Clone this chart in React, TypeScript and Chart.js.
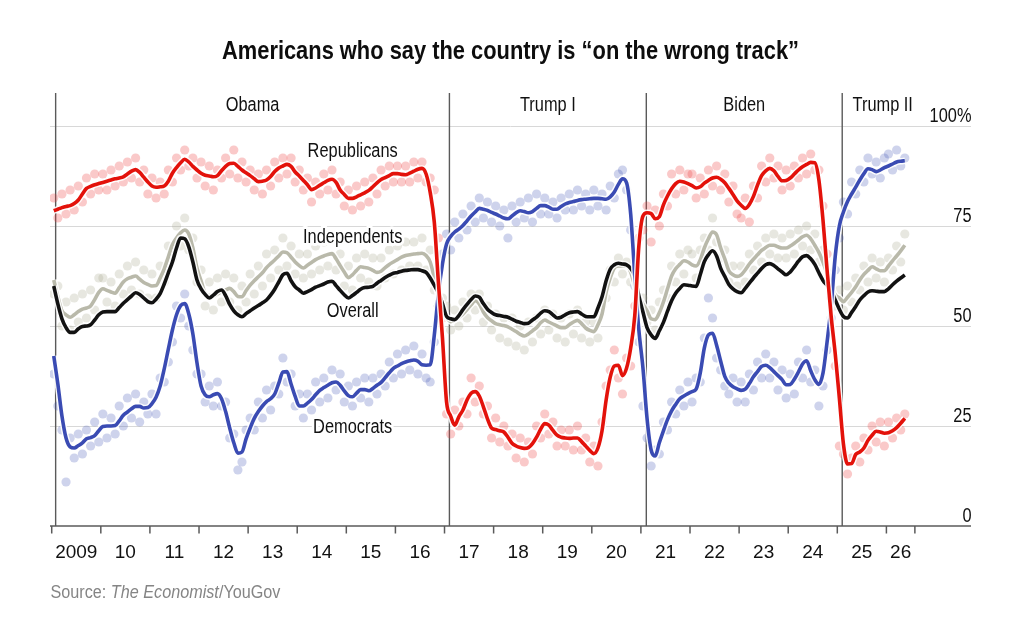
import React, { useEffect, useRef } from "react";
import { Chart, registerables } from "chart.js";

Chart.register(...registerables);

// ---------- data ----------
const START_YEAR = 2009;
const N_MONTHS = 209; // Jan 2009 .. May 2026
const months: number[] = Array.from({ length: N_MONTHS }, (_, i) => START_YEAR + (i + 0.5) / 12);

const republicans = [
  78.8, 79.2, 79.6, 79.9, 80.1, 80.6, 81.5, 83.0, 84.4, 84.9, 85.3, 85.6,
  85.9, 86.2, 86.5, 86.8, 87.0, 87.3, 88.0, 88.7, 89.1, 88.4, 87.2, 86.0,
  85.0, 84.7, 84.8, 85.0, 86.2, 88.2, 89.6, 90.8, 91.7, 91.0, 89.9, 89.0,
  88.2, 87.7, 87.5, 87.3, 87.6, 88.8, 89.9, 90.6, 90.7, 89.9, 89.0, 88.3,
  87.6, 86.8, 86.1, 86.2, 86.5, 87.4, 88.6, 89.5, 90.0, 90.4, 89.9, 88.5,
  87.5, 86.4, 85.3, 84.1, 84.5, 85.2, 85.8, 86.4, 86.7, 85.9, 84.0, 82.9,
  81.9, 81.9, 82.3, 82.8, 83.3, 83.9, 84.8, 85.8, 86.6, 87.1, 87.6, 88.1,
  88.1, 87.9, 87.8, 88.2, 88.7, 89.2, 89.4, 88.0, 83.4, 76.0, 61.0, 47.0,
  31.0, 27.5, 25.2, 27.3, 29.0, 31.5, 33.2, 33.6, 32.5, 29.8, 26.8, 24.5,
  24.1, 23.8, 23.5, 22.2, 20.7, 20.0, 19.6, 19.4, 19.6, 20.6, 22.2, 24.2,
  25.6, 25.2, 23.9, 22.7, 22.2, 22.0, 21.9, 22.0, 22.0, 21.1, 20.0, 18.9,
  18.1, 19.5, 23.8, 31.5, 37.2, 40.0, 40.2, 37.6, 39.5, 44.5, 52.6, 70.0,
  77.5, 78.3, 78.1, 76.8, 77.3, 80.3, 82.5, 84.3, 85.6, 86.2, 86.0, 85.6,
  85.1, 84.5, 84.8, 85.7, 86.4, 87.0, 87.2, 86.7, 85.8, 84.4, 82.9, 81.3,
  80.2, 79.4, 80.4, 82.4, 85.2, 87.6, 88.8, 89.4, 88.8, 87.4, 86.3, 86.4,
  87.0, 88.0, 89.0, 89.8, 90.4, 90.9, 90.8, 86.5, 76.5, 64.0, 52.4, 43.0,
  32.0, 20.5, 15.5, 15.6, 17.9, 18.5, 19.5, 21.4, 22.7, 23.7, 23.5, 23.2,
  23.3, 23.8, 24.6, 25.7, 26.9,
];

const democrats = [
  42.5, 35.5, 27.5, 22.0, 19.8, 19.5, 20.1, 20.8, 21.8, 22.1, 22.6, 23.8,
  24.9, 25.0, 25.0, 25.1, 26.3, 27.7, 28.5, 29.3, 29.9, 29.9, 29.5, 29.6,
  30.6, 32.2, 35.0, 39.3, 44.2, 49.0, 52.8, 55.1, 55.6, 53.0, 48.0, 40.8,
  35.0, 32.8, 32.3, 32.8, 33.1, 31.8, 28.6, 24.5, 20.8, 18.2, 18.5, 21.8,
  24.5, 26.9, 28.6, 30.0, 31.1, 31.8, 33.0, 35.7, 38.5, 38.6, 35.5, 32.4,
  30.0, 30.0, 30.7, 31.6, 32.8, 33.9, 34.6, 35.2, 35.8, 36.0, 35.2, 33.8,
  32.6, 32.3, 33.2, 34.1, 34.1, 33.8, 34.4, 35.2, 35.9, 37.1, 38.3, 39.4,
  40.0, 40.6, 41.0, 41.3, 41.5, 41.2, 40.3, 40.2, 40.3, 47.7, 58.0, 65.5,
  70.5, 72.4, 73.5, 74.2, 75.1, 76.3, 77.5, 78.5, 79.4, 79.2, 78.9, 78.4,
  78.0, 77.5, 77.0, 76.8, 77.5, 78.3, 78.8, 78.6, 78.3, 78.6, 79.4, 80.1,
  80.1, 79.7, 79.2, 79.2, 79.9, 80.5, 80.9, 81.1, 81.4, 81.6, 81.7, 81.8,
  81.9, 81.9, 81.8, 81.7, 82.3, 83.5, 85.4, 86.8, 85.8, 78.0, 62.6, 49.0,
  39.5, 26.9, 19.0, 17.5, 20.8, 23.8, 26.6, 28.8, 30.4, 31.8, 32.5, 33.1,
  33.6, 34.2, 38.2, 44.5, 47.8, 48.2, 45.2, 41.2, 37.4, 35.7, 34.8, 34.3,
  33.9, 34.2, 35.6, 37.3, 38.6, 39.9, 40.2, 39.6, 38.6, 37.6, 36.6, 35.3,
  35.4, 36.7, 38.5, 40.5, 41.3, 38.8, 36.6, 35.4, 38.2, 46.0, 55.0, 67.5,
  75.0, 78.5, 81.1, 83.0, 84.7, 86.5, 88.1, 89.3, 89.1, 88.6, 89.0, 89.6,
  90.0, 90.5, 91.0, 91.2, 91.3,
];

const independents = [
  61.5, 57.3, 53.8, 52.8, 52.2, 52.8, 53.6, 54.2, 54.5, 55.0, 56.6, 58.4,
  59.3, 58.9, 58.5, 58.2, 59.6, 61.0, 61.8, 62.2, 62.5, 61.7, 60.9, 60.4,
  60.0, 60.1, 62.0, 64.3, 67.3, 70.3, 72.0, 73.3, 74.0, 73.0, 69.5, 64.5,
  61.3, 58.2, 57.6, 57.5, 58.0, 58.6, 59.0, 59.4, 58.6, 57.4, 57.3, 58.8,
  60.2, 61.3, 62.3, 63.3, 64.6, 65.6, 66.5, 67.5, 68.5, 68.3, 67.2, 66.0,
  65.1, 64.5, 65.2, 65.9, 66.6, 67.1, 67.5, 67.9, 68.1, 66.8, 65.1, 63.5,
  62.1, 62.8, 63.9, 64.8, 64.6, 64.4, 63.9, 63.4, 63.7, 64.6, 65.4, 66.0,
  66.6, 67.2, 67.6, 67.8, 68.0, 68.1, 68.2, 67.6, 66.0, 62.0, 57.3, 54.0,
  52.2, 51.1, 51.5, 52.1, 53.0, 54.1, 55.3, 56.3, 55.5, 53.5, 52.1, 51.3,
  50.6, 50.3, 50.1, 49.8, 49.2, 48.6, 47.9, 47.5, 48.0, 48.8, 49.6, 50.8,
  51.5, 51.0, 50.5, 50.0, 49.6, 49.6, 50.3, 51.0, 51.4, 50.6, 49.5, 48.9,
  48.6, 50.3, 53.0, 58.5, 62.0, 64.5, 65.0, 65.0, 65.0, 63.5, 60.0, 57.5,
  55.5, 53.8, 51.8, 51.6, 53.3, 56.0, 59.3, 62.5, 64.3, 65.4, 66.3, 66.0,
  65.3, 65.0, 66.5, 69.5, 71.8, 73.5, 72.8, 69.5, 66.8, 63.8, 62.8, 62.4,
  62.8, 64.0, 65.5, 66.7, 67.8, 68.9, 69.6, 70.2, 70.2, 69.8, 69.5, 69.5,
  70.0, 70.7, 71.5, 72.3, 72.7, 71.8, 70.2, 68.4, 66.0, 63.0, 60.0, 57.8,
  57.0, 56.1, 57.2, 58.4, 59.8, 61.5, 62.9, 63.9, 64.8, 64.3, 63.8, 63.8,
  65.0, 66.3, 67.5, 68.8, 70.2,
];

const overall = [
  60.0, 55.5, 51.8, 49.6, 48.4, 48.4, 49.3, 49.9, 50.0, 50.3, 51.5, 52.8,
  53.5, 53.6, 53.6, 53.6, 54.6, 55.7, 56.6, 57.5, 58.3, 57.9, 57.0, 56.1,
  55.8, 56.7, 58.1, 60.5, 63.3, 66.0, 69.5, 72.0, 71.8, 69.8, 66.0, 61.5,
  59.3, 57.9, 57.0, 57.7, 58.6, 59.0, 57.6, 55.4, 53.8, 52.8, 52.3, 53.1,
  53.8, 54.5, 55.1, 55.8, 56.5, 57.7, 59.2, 61.0, 62.8, 63.2, 61.3, 59.8,
  59.0, 58.2, 58.6, 59.1, 59.7, 60.1, 60.5, 61.0, 61.2, 60.1, 58.9, 57.8,
  57.0, 57.6, 58.4, 59.2, 59.6, 59.7, 59.9, 60.7, 61.4, 62.1, 62.7, 63.2,
  63.4, 63.7, 63.9, 64.0, 64.1, 64.1, 63.8, 63.4, 62.0, 60.2, 58.3, 55.6,
  52.4, 51.8, 51.6, 52.6, 54.1, 55.4, 56.6, 57.5, 57.2, 55.6, 54.2, 53.4,
  52.8, 52.6, 52.4, 52.2, 51.7, 51.2, 50.9, 50.6, 50.7, 51.5, 52.2, 53.2,
  53.8, 53.6, 52.8, 52.0, 52.2, 52.8, 53.3, 53.5, 53.6, 53.0, 52.4, 52.3,
  52.3, 54.5, 57.3, 61.3, 64.2, 65.3, 65.7, 65.5, 65.3, 64.4, 62.5, 57.5,
  53.5, 49.6, 47.8, 46.9, 48.8, 50.9, 53.7, 56.3, 58.2, 59.4, 60.3, 60.2,
  60.0, 59.9, 62.8, 66.1, 67.8, 68.8, 67.5, 64.4, 62.4, 60.4, 59.3, 58.6,
  58.3, 59.4, 60.7, 62.0, 63.2, 64.4, 65.3, 65.6, 65.1, 64.3, 63.5, 62.8,
  63.5, 64.8, 66.2, 67.3, 67.6, 66.8, 65.4, 63.3, 61.4, 60.2, 59.0, 56.5,
  54.2, 52.4, 52.0, 53.4, 54.9, 56.5, 57.6, 58.5, 58.8, 58.7, 58.6, 58.6,
  59.3, 60.3, 61.2, 62.0, 62.75,
];

// individual poll readings (approximate)
const repPolls = [
  82, 77, 83, 78, 84, 79, 85, 81, 87, 83, 88, 84,
  88, 84, 89, 85, 90, 86, 91, 87, 92, 86, 89, 83,
  87, 82, 86, 83, 89, 86, 92, 89, 94, 90, 92, 87,
  91, 85, 90, 84, 89, 87, 92, 88, 94, 87, 91, 86,
  89, 84, 88, 83, 89, 85, 91, 87, 92, 88, 92, 86,
  89, 84, 87, 81, 86, 83, 88, 84, 89, 83, 86, 80,
  84, 79, 85, 80, 86, 81, 87, 83, 89, 85, 90, 86,
  90, 86, 90, 86, 91, 87, 91, 86, 87, 84, 72, 52,
  28, 23, 29, 25, 31, 28, 37, 31, 35, 28, 30, 22,
  27, 21, 25, 20, 23, 17, 22, 16, 21, 18, 25, 22,
  28, 23, 26, 20, 24, 20, 24, 19, 25, 19, 22, 16,
  20, 15, 26, 35, 39, 44, 37, 33, 42, 40, 55, 72,
  74, 80, 71, 79, 75, 83, 80, 88, 83, 89, 84, 88,
  88, 82, 87, 83, 89, 85, 90, 84, 88, 81, 85, 78,
  77, 82, 76, 85, 82, 90, 86, 92, 87, 90, 84, 89,
  85, 90, 87, 92, 88, 93, 89, 89, 80, 68, 57, 40,
  20, 18, 13, 17, 20, 16, 22, 19, 25, 21, 26, 20,
  26, 22, 27, 24, 28,
];

const demPolls = [
  38, 30, 24, 11, 22, 17, 23, 18, 24, 20, 26, 21,
  28, 22, 27, 23, 30, 25, 32, 27, 33, 26, 31, 28,
  33, 28, 37, 36, 41, 46, 55, 52, 58, 50, 44, 38,
  38, 31, 35, 30, 36, 30, 31, 22, 23, 14, 16, 24,
  27, 24, 31, 27, 34, 29, 35, 33, 42, 36, 38, 30,
  33, 27, 33, 29, 36, 31, 37, 32, 39, 34, 38, 31,
  35, 30, 36, 32, 37, 31, 37, 33, 38, 35, 41, 37,
  43, 38, 44, 39, 45, 38, 43, 37, 36, 46, 55, 68,
  73, 69, 76, 72, 78, 74, 80, 76, 82, 77, 81, 76,
  80, 75, 79, 72, 80, 76, 81, 77, 82, 76, 83, 78,
  82, 78, 81, 77, 82, 79, 83, 79, 84, 80, 83, 79,
  84, 80, 83, 79, 85, 82, 88, 89, 84, 74, 60, 46,
  30, 22, 15, 19, 18, 26, 24, 31, 28, 34, 30, 36,
  31, 37, 36, 47, 57, 52, 42, 39, 35, 33, 37, 31,
  36, 31, 38, 34, 41, 37, 43, 37, 41, 34, 39, 32,
  38, 33, 41, 37, 44, 36, 39, 30, 35, 44, 52, 64,
  72, 81, 78, 86, 83, 89, 86, 92, 88, 91, 87, 92,
  93, 89, 94, 90, 92,
];

const indPolls = [
  58, 60, 50, 56, 49, 57, 51, 58, 52, 59, 54, 62,
  62, 56, 61, 55, 63, 58, 65, 59, 66, 58, 64, 57,
  63, 57, 65, 61, 70, 67, 75, 70, 77, 69, 72, 61,
  64, 55, 61, 54, 62, 56, 63, 56, 62, 54, 60, 56,
  63, 58, 65, 60, 68, 62, 69, 64, 72, 65, 70, 63,
  68, 62, 68, 63, 70, 64, 71, 65, 72, 64, 68, 60,
  65, 59, 67, 62, 68, 61, 67, 60, 67, 62, 69, 63,
  70, 64, 71, 65, 71, 65, 72, 64, 69, 59, 55, 57,
  55, 49, 54, 50, 56, 52, 58, 54, 58, 51, 55, 49,
  53, 47, 52, 46, 52, 45, 50, 44, 51, 46, 52, 48,
  54, 49, 53, 47, 52, 46, 53, 48, 54, 47, 51, 46,
  51, 47, 55, 57, 64, 61, 67, 63, 66, 61, 62, 55,
  57, 51, 54, 49, 56, 59, 57, 65, 61, 68, 63, 69,
  68, 62, 69, 72, 69, 77, 71, 67, 69, 61, 65, 60,
  65, 61, 68, 64, 70, 66, 72, 68, 73, 67, 72, 67,
  73, 68, 74, 70, 75, 69, 73, 66, 69, 61, 62, 55,
  59, 54, 60, 56, 62, 59, 65, 61, 67, 62, 66, 61,
  67, 64, 70, 66, 73,
];

// axes / annotations
const yearTicks = [2009, 2010, 2011, 2012, 2013, 2014, 2015, 2016, 2017, 2018, 2019, 2020, 2021, 2022, 2023, 2024, 2025, 2026];
const yearLabels = ["2009", "10", "11", "12", "13", "14", "15", "16", "17", "18", "19", "20", "21", "22", "23", "24", "25", "26"];
const axisEndYear = 2026.58;
const yTickValues = [0, 25, 50, 75, 100];
const yTickLabels = ["0", "25", "50", "75", "100%"];
const presidencies = ["Obama", "Trump I", "Biden", "Trump II"];
const termStarts = [2009.08, 2017.1, 2021.11, 2025.1];
const lastTermEnd = 2026.75;
const seriesNames = ["Republicans", "Independents", "Overall", "Democrats"];
const seriesLabelYear = 2015.13;
const seriesLabelValues = [92.2, 70.75, 52.25, 23.3];

const TITLE = "Americans who say the country is \u201Con the wrong track\u201D";

// ---------- styles ----------
const RED = "#e3120b";
const BLUE = "#3a4bb3";
const GREY = "#b9b9aa";
const BLACK = "#121212";
const SANS = '"Liberation Sans", Arial, sans-serif';
const COND = 0.84; // horizontal squeeze to mimic a condensed face

const pts = (vals: number[]) => months.map((x, i) => ({ x, y: vals[i] }));

function txt(
  ctx: CanvasRenderingContext2D,
  s: string,
  x: number,
  y: number,
  font: string,
  align: CanvasTextAlign,
  color: string,
  sx = 1,
  halo = 0
) {
  ctx.save();
  ctx.translate(x, y);
  ctx.scale(sx, 1);
  ctx.font = font;
  ctx.textAlign = align;
  ctx.textBaseline = "alphabetic";
  if (halo) {
    ctx.lineWidth = halo;
    ctx.lineJoin = "round";
    ctx.strokeStyle = "#fff";
    ctx.strokeText(s, 0, 0);
  }
  ctx.fillStyle = color;
  ctx.fillText(s, 0, 0);
  ctx.restore();
}

const decor = {
  id: "decor",
  beforeDatasetsDraw(chart: any) {
    const { ctx, chartArea, scales } = chart;
    const x = scales.x;
    const y = scales.y;
    ctx.save();
    ctx.strokeStyle = "#d8d8d8";
    ctx.lineWidth = 1;
    yTickValues.forEach((v) => {
      if (v === 0) return;
      const py = Math.round(y.getPixelForValue(v)) + 0.5;
      ctx.beginPath();
      ctx.moveTo(chartArea.left, py);
      ctx.lineTo(chartArea.right, py);
      ctx.stroke();
    });
    ctx.strokeStyle = "#5a5a5a";
    ctx.lineWidth = 1.4;
    termStarts.forEach((t) => {
      const px = x.getPixelForValue(t);
      ctx.beginPath();
      ctx.moveTo(px, chartArea.top - 33);
      ctx.lineTo(px, chartArea.bottom);
      ctx.stroke();
    });
    ctx.restore();
  },
  afterDatasetsDraw(chart: any) {
    const { ctx, chartArea, scales } = chart;
    const x = scales.x;
    const y = scales.y;
    ctx.save();
    const base = y.getPixelForValue(0);
    ctx.strokeStyle = "#5a5a5a";
    ctx.lineWidth = 1.5;
    ctx.beginPath();
    ctx.moveTo(chartArea.left, base);
    ctx.lineTo(chartArea.right, base);
    ctx.stroke();
    [...yearTicks, axisEndYear].forEach((t) => {
      const px = x.getPixelForValue(t);
      ctx.beginPath();
      ctx.moveTo(px, base);
      ctx.lineTo(px, base + 7.5);
      ctx.stroke();
    });
    yearTicks.forEach((t, i) => {
      const end = Math.min(t + 1, axisEndYear);
      const px = x.getPixelForValue((t + end) / 2);
      txt(ctx, yearLabels[i], px, base + 32, `19px ${SANS}`, "center", "#111");
    });
    yTickValues.forEach((v, i) => {
      const py = y.getPixelForValue(v);
      txt(ctx, yTickLabels[i], chartArea.right + 0.5, py - 4.5, `19.5px ${SANS}`, "right", "#111", COND);
    });
    termStarts.forEach((t, i) => {
      const end = i < termStarts.length - 1 ? termStarts[i + 1] : lastTermEnd;
      const px = (x.getPixelForValue(t) + x.getPixelForValue(end)) / 2;
      txt(ctx, presidencies[i], px, chartArea.top - 15.5, `19.5px ${SANS}`, "center", "#111", COND);
    });
    seriesNames.forEach((s, i) => {
      txt(ctx, s, x.getPixelForValue(seriesLabelYear), y.getPixelForValue(seriesLabelValues[i]), `19.5px ${SANS}`, "center", "#111", COND, 6);
    });
    // title
    ctx.font = `bold 26px ${SANS}`;
    ctx.textAlign = "center";
    ctx.textBaseline = "alphabetic";
    ctx.fillStyle = "#0d0d0d";
    ctx.fillText(TITLE, 510.5, 59, 577);
    // source
    ctx.save();
    ctx.translate(chartArea.left + 0.5, 598);
    ctx.scale(0.9, 1);
    let sx = 0;
    const parts: [string, string][] = [
      ["Source: ", `18px ${SANS}`],
      ["The Economist", `italic 18px ${SANS}`],
      ["/YouGov", `18px ${SANS}`],
    ];
    ctx.textAlign = "left";
    ctx.fillStyle = "#858585";
    parts.forEach(([s, f]) => {
      ctx.font = f;
      ctx.fillText(s, sx, 0);
      sx += ctx.measureText(s).width;
    });
    ctx.restore();
    ctx.restore();
  },
};

export default function App() {
  const ref = useRef<HTMLCanvasElement | null>(null);
  useEffect(() => {
    if (!ref.current) return;
    const lineDs = (label: string, vals: number[], color: string) => ({
      label,
      data: pts(vals),
      borderColor: color,
      borderWidth: 3.6,
      pointRadius: 0,
      cubicInterpolationMode: "monotone" as const,
      fill: false,
    });
    const haloDs = (vals: number[]) => ({
      label: "halo",
      data: pts(vals),
      borderColor: "rgba(255,255,255,0.9)",
      borderWidth: 6.5,
      pointRadius: 0,
      cubicInterpolationMode: "monotone" as const,
      fill: false,
    });
    const dotDs = (label: string, vals: number[], color: string) => ({
      label,
      data: pts(vals),
      showLine: false,
      pointRadius: 4.6,
      pointBorderWidth: 0,
      pointBackgroundColor: color,
      borderColor: color,
    });
    const chart = new Chart(ref.current, {
      type: "line",
      data: {
        datasets: [
          lineDs("Republicans", republicans, RED),
          haloDs(republicans),
          lineDs("Democrats", democrats, BLUE),
          haloDs(democrats),
          lineDs("Overall", overall, BLACK),
          haloDs(overall),
          lineDs("Independents", independents, GREY),
          haloDs(independents),
          dotDs("Republican polls", repPolls, "rgba(238,60,60,0.28)"),
          dotDs("Democrat polls", demPolls, "rgba(61,80,181,0.25)"),
          dotDs("Independent polls", indPolls, "rgba(168,168,144,0.28)"),
        ] as any,
      },
      options: {
        responsive: false,
        animation: false,
        events: [],
        layout: { padding: { left: 50, right: 51, top: 126, bottom: 103 } },
        plugins: { legend: { display: false }, tooltip: { enabled: false }, title: { display: false } },
        scales: {
          x: { type: "linear", min: 2008.965, max: 2027.723, display: false },
          y: { type: "linear", min: 0, max: 100, display: false },
        },
      },
      plugins: [decor],
    });
    return () => chart.destroy();
  }, []);
  return (
    <div style={{ position: "fixed", left: 0, top: 0, width: 1022, height: 629, background: "#fff" }}>
      <canvas ref={ref} width={1022} height={629} style={{ display: "block" }} />
    </div>
  );
}
